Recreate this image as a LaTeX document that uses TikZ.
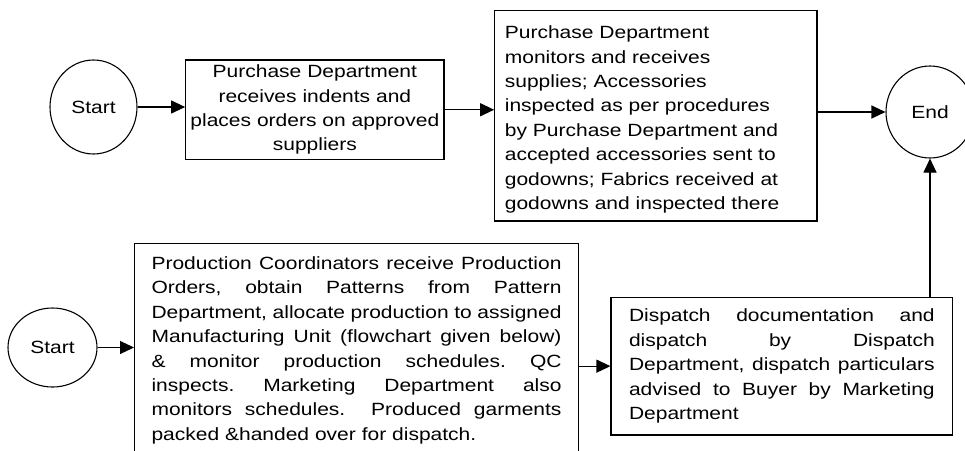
\documentclass[tikz,border=0pt]{standalone}
\usepackage{fontspec}
\setmainfont{Liberation Sans}[FakeStretch=1.186]
\usetikzlibrary{arrows.meta,shapes.geometric}
\newcommand\jlp[1]{\leavevmode\hbox to 410pt{#1}}
\newcommand\jld[1]{\leavevmode\hbox to 305.7pt{#1}}
\begin{document}
\begin{tikzpicture}[x=1pt,y=-1pt,
  every node/.style={font=\fontsize{17.7}{24.4}\selectfont, text=black},
  box/.style={draw, line width=1.1pt, rectangle, inner sep=0pt},
  term/.style={draw, line width=1.1pt, ellipse, inner sep=0pt},
  arr/.style={line width=1.1pt, -{Triangle[length=14pt,width=13pt]}}]
\useasboundingbox (0,0) rectangle (965,450);
\clip (0,0) rectangle (965,450);
\fill[white] (0,0) rectangle (965,450);
\node[term, minimum width=87pt, minimum height=94pt] (s1) at (93.5,107) {Start};
\node[box, minimum width=258.3pt, minimum height=99.5pt, text width=252pt, align=center] (b1) at (314.85,109.75)
  {Purchase Department\\receives indents and\\places orders on approved\\suppliers};
\node[box, minimum width=322.3pt, minimum height=210.3pt, text width=302pt, align=left] (b2) at (655.85,115.85)
  {\rule{0pt}{20pt}Purchase Department\\monitors and receives\\supplies; Accessories\\inspected as per procedures\\by Purchase Department and\\accepted accessories sent to\\godowns; Fabrics received at\\godowns and inspected there};
\node[term, minimum width=88pt, minimum height=92pt] (end) at (930,112) {End};
\node[term, minimum width=89pt, minimum height=79pt] (s2) at (52.5,347.5) {Start};
\node[box, anchor=north west, inner xsep=17pt, inner ysep=13.5pt, text width=410pt, align=left] (prod) at (134,242.7)
  {\jlp{Production\hfill Coordinators\hfill receive\hfill Production}\\
   \jlp{Orders,\hfill obtain\hfill Patterns\hfill from\hfill Pattern}\\
   \jlp{Department,\hfill allocate\hfill production\hfill to\hfill assigned}\\
   \jlp{Manufacturing\hfill Unit\hfill (flowchart\hfill given\hfill below)}\\
   \jlp{\&\hfill monitor\hfill production\hfill schedules.\hfill QC}\\
   \jlp{inspects.\hfill Marketing\hfill Department\hfill also}\\
   \jlp{monitors\hfill schedules.\hfill\hfill Produced\hfill garments}\\
   packed \&handed over for dispatch.\rule[-40pt]{0pt}{0pt}};
\node[box, minimum width=341.7pt, minimum height=137.7pt, text width=305.7pt, align=left] (disp) at (781.85,366.15)
  {\jld{Dispatch\hfill documentation\hfill and}\\
   \jld{dispatch\hfill by\hfill Dispatch}\\
   \jld{Department,\hfill dispatch\hfill particulars}\\
   \jld{advised\hfill to\hfill Buyer\hfill by\hfill Marketing}\\
   Department};
\draw[arr] (s1.east) -- (s1.east -| b1.west);
\draw[arr] (b1.east) -- (b1.east -| b2.west);
\draw[arr] (b2.east |- end.west) -- (end.west);
\draw[arr] (s2.east) -- (s2.east -| prod.west);
\draw[arr] (disp.west -| prod.east) -- (disp.west);
\draw[arr] (disp.north -| end.south) -- (end.south);
\end{tikzpicture}
\end{document}
